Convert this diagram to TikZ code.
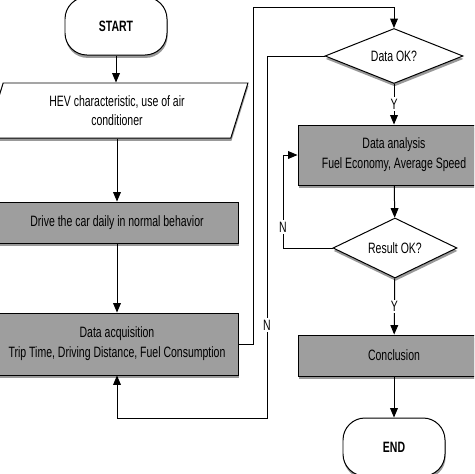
\documentclass[tikz,border=0pt]{standalone}
\usepackage{fontspec}
\setmainfont{Liberation Sans}[FakeStretch=0.7]
\usepackage{tikz}
\usetikzlibrary{shapes.geometric}
\usetikzlibrary{arrows}
\usetikzlibrary{shadows}

\begin{document}
\begin{tikzpicture}[x = 0.03cm, y = -0.03cm,
        font = \fontsize{12.8}{16}\selectfont,
        line width = 0.85pt,
        shade/.style = {drop shadow = {shadow xshift = 0.5pt, shadow yshift = -2.5pt,
            fill = black, opacity = 0.4}},
        terminal/.style = {draw, fill = white, shade, rectangle, rounded corners = 0.66cm,
            minimum width = 3.06cm, minimum height = 1.74cm},
        io/.style = {draw, fill = white, shade, trapezium, trapezium left angle = 74,
            trapezium right angle = 106, trapezium stretches = true,
            minimum width = 7.86cm, minimum height = 1.65cm, align = center},
        process/.style = {draw, fill = black!38, shade, rectangle, align = center,
            inner sep = 2pt},
        decision/.style = {draw, fill = white, shade, diamond, aspect = 2.5, inner sep = 1pt},
        flow/.style = {-triangle 45},
        lbl/.style = {fill = white, inner sep = 1.5pt}]
        \useasboundingbox (0, 0) rectangle (474, 474);
        \clip (0, 0) rectangle (474, 474);

        % left column
        \node[terminal] (start) at (116, 26) {\bfseries START};
        \node[io] (hev) at (117, 110.5) {HEV characteristic, use of air\\conditioner};
        \node[process, minimum width = 7.26cm, minimum height = 1.23cm] (drive)
            at (117, 222.5) {Drive the car daily in normal behavior};
        \node[process, minimum width = 7.26cm, minimum height = 1.86cm] (acq)
            at (117, 344) {Data acquisition\\[1pt]Trip Time, Driving Distance, Fuel Consumption};

        % right column
        \node[decision, minimum width = 4.14cm, minimum height = 1.65cm] (dataok)
            at (394, 56) {Data OK?};
        \node[process, minimum width = 5.76cm, minimum height = 1.8cm] (analysis)
            at (394, 155) {Data analysis\\[1pt]Fuel Economy, Average Speed};
        \node[decision, minimum width = 3.72cm, minimum height = 1.8cm] (resultok)
            at (395, 248) {Result OK?};
        \node[process, minimum width = 5.76cm, minimum height = 1.23cm] (conclusion)
            at (394, 355.5) {Conclusion};
        \node[terminal] (finish) at (394, 447) {\bfseries END};

        % connectors
        \draw[flow] (start.south) -- (start.south |- hev.north);
        \draw[flow] (drive.north |- hev.south) -- (drive.north);
        \draw[flow] (drive) -- (acq);
        \draw[flow] (acq.east) -| (253, 7) -| (dataok.north);
        \draw[flow] (dataok) -- node[lbl] (yes1) {Y} (analysis);
        \draw[flow] (dataok.west) -| (267, 418) -| (acq.south);
        \node[lbl] (no1) at (267, 325) {N};
        \draw[flow] (analysis) -- (resultok);
        \draw[flow] (resultok.west) -- (283, 248) |- (analysis.west);
        \node[lbl] (no2) at (283, 227) {N};
        \draw[flow] (resultok) -- node[lbl] (yes2) {Y} (conclusion);
        \draw[flow] (conclusion) -- (finish);
\end{tikzpicture}
\end{document}
